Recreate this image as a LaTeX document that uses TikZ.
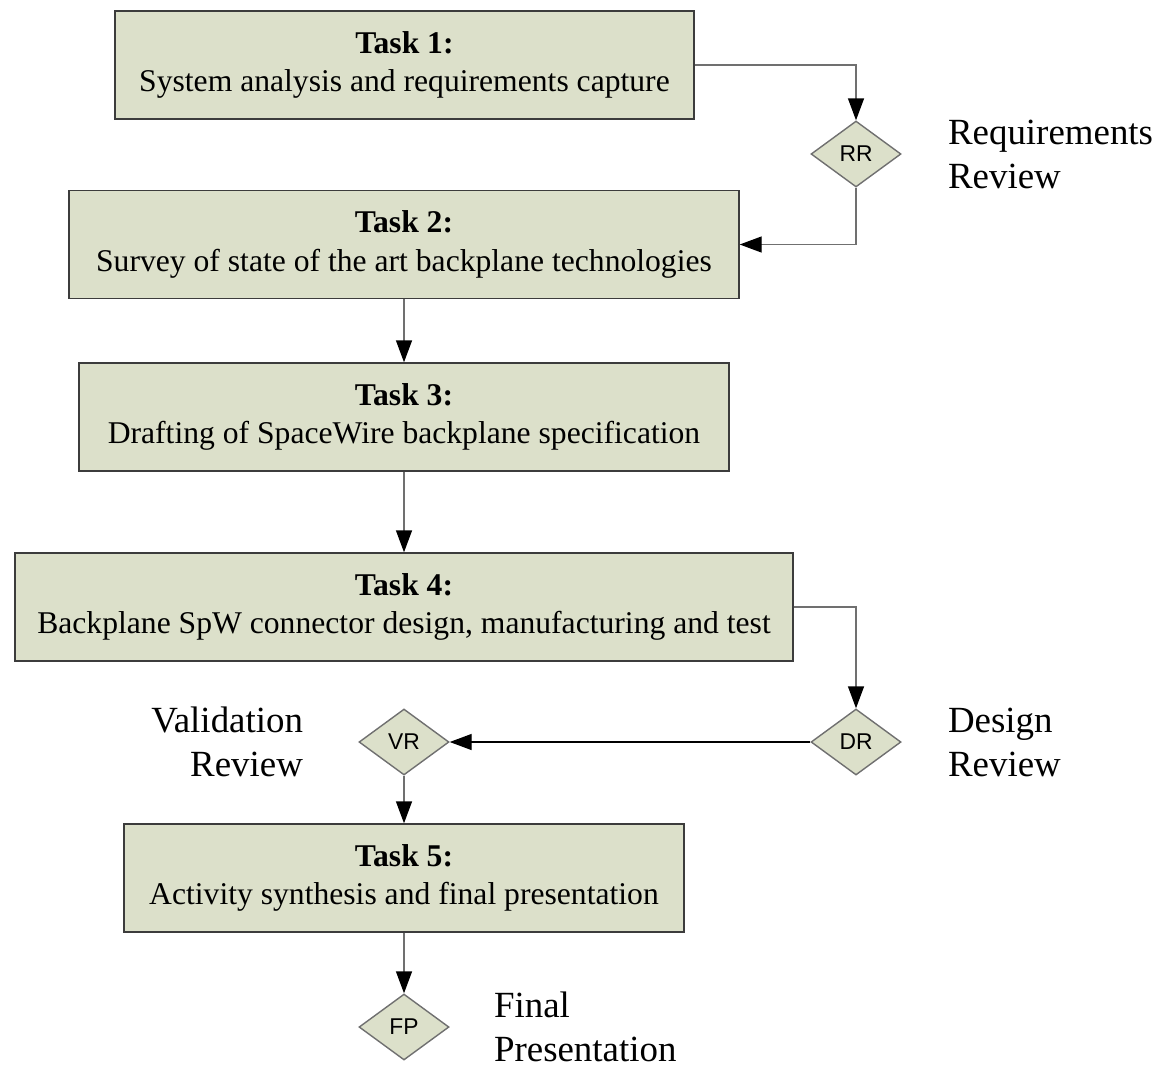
\documentclass[tikz,border=0pt]{standalone}
\usepackage{fontspec}
\setmainfont{Liberation Serif}
\setsansfont{Liberation Sans}
\usepackage{tikz}
\usetikzlibrary{arrows.meta}
\usetikzlibrary{shapes.geometric}
\usetikzlibrary{positioning}

\definecolor{taskfill}{HTML}{DCE0CA}
\definecolor{taskline}{HTML}{3C3C3C}
\definecolor{flowline}{HTML}{707070}

\begin{document}
\begin{tikzpicture}[
		>={Triangle[length=0.44cm,width=0.32cm,color=black]},
		task/.style={draw=taskline, line width=0.8pt, fill=taskfill, minimum height=2.16cm,
			align=center, inner sep=0pt, font=\fontsize{18}{22}\selectfont},
		review/.style={diamond, draw=flowline, line width=0.8pt, fill=taskfill, inner sep=0pt,
			minimum width=1.8cm, minimum height=1.32cm, font=\sffamily\fontsize{13}{15}\selectfont},
		note/.style={font=\fontsize{21}{25}\selectfont, inner sep=0pt},
		flow/.style={draw=flowline, line width=0.8pt, ->},
	]
		\useasboundingbox (0,0) rectangle (23.22,-21.36);
		% tasks
		\node[task, minimum width=11.58cm] (T1) at (8.09,-1.30) {\textbf{Task 1:}\\System analysis and requirements capture};
		\node[task, minimum width=13.40cm] (T2) at (8.08,-4.89) {\textbf{Task 2:}\\Survey of state of the art backplane technologies};
		\node[task, minimum width=13.00cm] (T3) at (8.08,-8.34) {\textbf{Task 3:}\\Drafting of SpaceWire backplane specification};
		\node[task, minimum width=15.56cm] (T4) at (8.08,-12.14) {\textbf{Task 4:}\\Backplane SpW connector design, manufacturing and test};
		\node[task, minimum width=11.20cm] (T5) at (8.08,-17.56) {\textbf{Task 5:}\\Activity synthesis and final presentation};
		% reviews
		\node[review] (RR) at (17.12,-3.08) {RR};
		\node[review] (DR) at (17.12,-14.84) {DR};
		\node[review] (VR) at (8.08,-14.84) {VR};
		\node[review] (FP) at (8.08,-20.54) {FP};
		\node[note, align=left, anchor=west, right=0.92cm of RR] (RRtxt) {Requirements\\Review};
		\node[note, align=left, anchor=west, right=0.92cm of DR] (DRtxt) {Design\\Review};
		\node[note, align=right, anchor=east, left=1.1cm of VR] (VRtxt) {Validation\\Review};
		\node[note, align=left, anchor=west, right=0.88cm of FP] (FPtxt) {Final\\Presentation};
		% connectors
		\draw [flow] (T1.east) -| (RR.north);
		\draw [flow] (RR.south) |- (T2.east);
		\draw [flow] (T2.south) -- (T3.north);
		\draw [flow] (T3.south) -- (T4.north);
		\draw [flow] (T4.east) -| (DR.north);
		\draw [flow, draw=black] (DR.west) -- (VR.east);
		\draw [flow] (VR.south) -- (T5.north);
		\draw [flow] (T5.south) -- (FP.north);
\end{tikzpicture}
\end{document}
